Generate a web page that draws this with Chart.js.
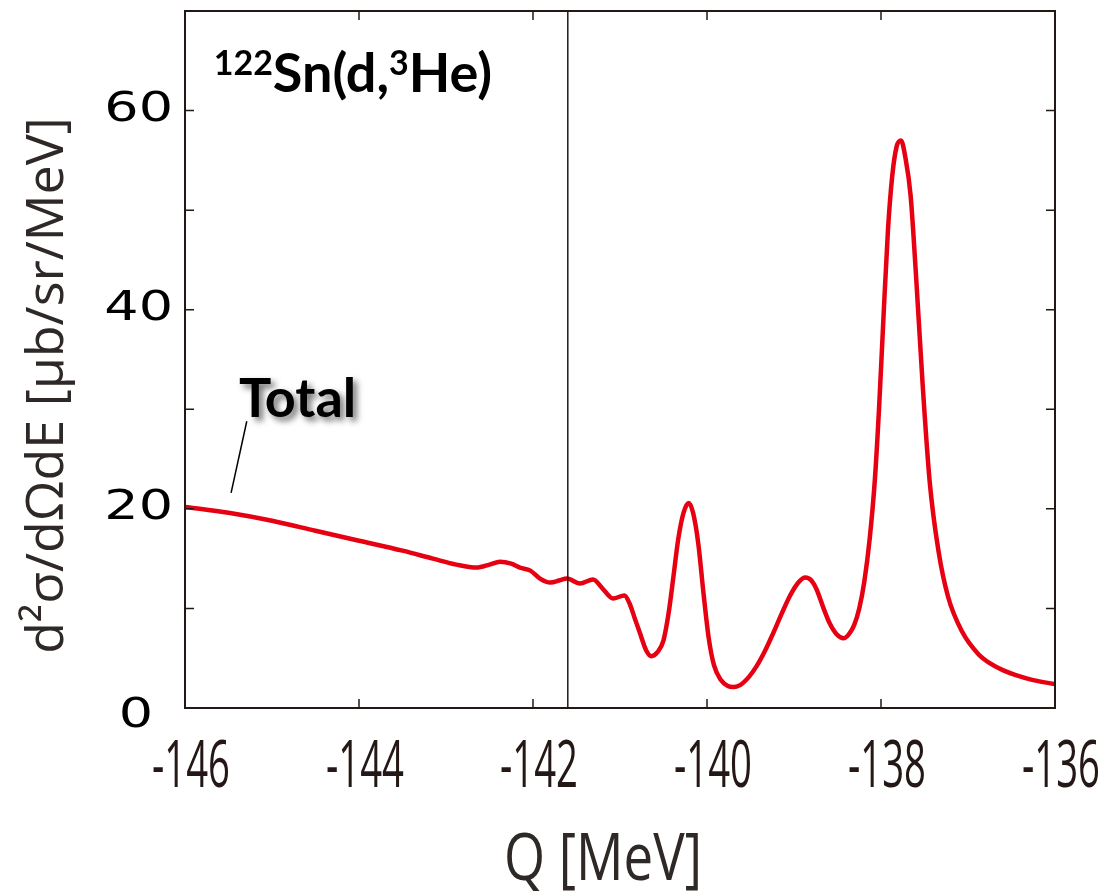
<!DOCTYPE html>
<html>
<head>
<meta charset="utf-8">
<script src="https://cdn.jsdelivr.net/npm/chart.js@4.4.1/dist/chart.umd.min.js"></script>
<style>
  html, body { margin: 0; background: #fff; }
  #wrap { width: 1098px; height: 892px; }
</style>
</head>
<body>
<div id="wrap"><canvas id="espectro" width="1098" height="892"></canvas></div>
<script>
// Q (MeV) e secao de choque dupla diferencial total (ub/sr/MeV)
const qMeV = [
  -146.00, -145.50, -145.00, -144.50, -144.00, -143.50, -143.15, -142.88, -142.65, -142.50,
  -142.38, -142.25, -142.15, -142.03, -141.92, -141.80, -141.70, -141.61, -141.46, -141.31,
  -141.20, -141.08, -140.95, -140.89, -140.83, -140.77, -140.70, -140.64, -140.57, -140.50,
  -140.44, -140.39, -140.33, -140.27, -140.21, -140.16, -140.10, -140.04, -139.98, -139.92,
  -139.84, -139.76, -139.70, -139.62, -139.52, -139.43, -139.33, -139.24, -139.14, -139.05,
  -138.95, -138.87, -138.80, -138.74, -138.66, -138.59, -138.51, -138.43, -138.37, -138.31,
  -138.25, -138.19, -138.13, -138.07, -138.02, -137.97, -137.92, -137.87, -137.82, -137.77,
  -137.72, -137.66, -137.60, -137.52, -137.44, -137.34, -137.23, -137.07, -136.88, -136.75,
  -136.60, -136.45, -136.25, -136.00
];
const sigmaTotal = [
  20.2, 19.6, 18.8, 17.8, 16.8, 15.8, 15.0, 14.4, 14.1, 14.4,
  14.7, 14.5, 14.1, 13.8, 13.0, 12.6, 12.8, 13.0, 12.5, 12.9,
  12.0, 11.0, 11.3, 10.5, 9.0, 7.5, 5.8, 5.2, 5.6, 6.8,
  9.6, 12.9, 17.0, 19.6, 20.6, 19.6, 16.5, 11.5, 7.0, 4.3,
  2.8, 2.2, 2.1, 2.3, 3.1, 4.2, 5.8, 7.5, 9.5, 11.2,
  12.6, 13.1, 12.8, 11.9, 10.0, 8.5, 7.4, 7.0, 7.4, 8.3,
  10.0, 12.8, 17.0, 23.0, 30.5, 39.5, 48.0, 53.5, 56.4, 57.0,
  55.3, 51.5, 43.8, 32.3, 22.7, 15.8, 11.2, 7.7, 5.4, 4.5,
  3.8, 3.3, 2.8, 2.4
];
// limiar marcado pela linha vertical
const qLimiar = -141.6;
const yLabeled = [0, 20, 40, 60];

const NEGRO = '#231815';
const CINZA = '#2e2926';

function desenhaTrechos(ctx, x, y, trechos) {
  for (const t of trechos) {
    ctx.font = t.font;
    ctx.fillText(t.text, x, y + (t.dy || 0));
    x += ctx.measureText(t.text).width;
  }
}

// texto com escala horizontal (fontes estreitas / largas)
function textoEsticado(ctx, txt, px, py, sx) {
  ctx.save();
  ctx.translate(px, py);
  ctx.scale(sx, 1);
  ctx.fillText(txt, 0, 0);
  ctx.restore();
}

const moldura = {
  id: 'moldura',
  afterDraw(chart) {
    const { ctx, chartArea: a, scales: { x, y } } = chart;
    ctx.save();
    ctx.strokeStyle = NEGRO;
    ctx.lineWidth = 2;
    ctx.strokeRect(a.left, a.top, a.right - a.left, a.bottom - a.top);

    // marcas para dentro nos quatro lados
    ctx.lineWidth = 1.5;
    ctx.beginPath();
    x.ticks.forEach(t => {
      const px = x.getPixelForValue(t.value);
      ctx.moveTo(px, a.bottom); ctx.lineTo(px, a.bottom - 9);
      ctx.moveTo(px, a.top); ctx.lineTo(px, a.top + 9);
    });
    y.ticks.forEach(t => {
      const py = y.getPixelForValue(t.value);
      ctx.moveTo(a.left, py); ctx.lineTo(a.left + 9, py);
      ctx.moveTo(a.right, py); ctx.lineTo(a.right - 9, py);
    });
    ctx.stroke();

    // numeros do eixo x
    ctx.fillStyle = NEGRO;
    ctx.textAlign = 'center';
    ctx.textBaseline = 'alphabetic';
    ctx.font = '500 66px "Open Sans"';
    x.ticks.forEach(t => {
      textoEsticado(ctx, String(t.value), x.getPixelForValue(t.value) + 6, a.bottom + 79, 0.58);
    });

    // numeros do eixo y
    ctx.fillStyle = '#000';
    ctx.textAlign = 'right';
    ctx.textBaseline = 'middle';
    ctx.font = '40px "DejaVu Sans"';
    yLabeled.forEach(v => {
      const dx = v === 0 ? -20 : 0;
      const dy = v === 0 ? 9 : 0;
      textoEsticado(ctx, String(v), a.left - 12 + dx, y.getPixelForValue(v) + dy, 1.35);
    });

    // titulos dos eixos
    ctx.fillStyle = CINZA;
    ctx.textAlign = 'center';
    ctx.textBaseline = 'alphabetic';
    ctx.font = '66px "Open Sans"';
    textoEsticado(ctx, 'Q [MeV]', (a.left + a.right) / 2 - 17, 880, 0.8);

    ctx.save();
    ctx.translate(48, (a.top + a.bottom) / 2 + 26);
    ctx.rotate(-Math.PI / 2);
    ctx.textBaseline = 'middle';
    ctx.font = '52px "Open Sans"';
    ctx.fillText('d²σ/dΩdE [μb/sr/MeV]', 0, 0);
    ctx.restore();

    // reacao
    ctx.fillStyle = '#000';
    ctx.textAlign = 'left';
    ctx.textBaseline = 'alphabetic';
    desenhaTrechos(ctx, x.getPixelForValue(-145.67), y.getPixelForValue(61.9), [
      { text: '122', font: 'bold 34px Lato', dy: -17 },
      { text: 'Sn(d,', font: 'bold 54px Lato' },
      { text: '3', font: 'bold 34px Lato', dy: -17 },
      { text: 'He)', font: 'bold 54px Lato' }
    ]);

    // rotulo da curva total com sombra
    ctx.save();
    ctx.shadowColor = 'rgba(0,0,0,0.55)';
    ctx.shadowBlur = 6;
    ctx.shadowOffsetX = 4;
    ctx.shadowOffsetY = 4;
    ctx.font = 'bold 54px Lato';
    ctx.fillText('Total', x.getPixelForValue(-145.38), y.getPixelForValue(29.2));
    ctx.restore();

    ctx.strokeStyle = '#000';
    ctx.lineWidth = 1.5;
    ctx.beginPath();
    ctx.moveTo(x.getPixelForValue(-145.29), y.getPixelForValue(28.8));
    ctx.lineTo(x.getPixelForValue(-145.47), y.getPixelForValue(21.6));
    ctx.stroke();
    ctx.restore();
  }
};

const ctx = document.getElementById('espectro').getContext('2d');
const grafico = new Chart(ctx, {
  type: 'scatter',
  data: {
    datasets: [{
      label: 'limiar',
      data: [{ x: qLimiar, y: 0 }, { x: qLimiar, y: 70 }],
      showLine: true,
      borderColor: NEGRO,
      borderWidth: 1.5,
      pointRadius: 0
    }, {
      label: 'Total',
      data: qMeV.map((q, i) => ({ x: q, y: sigmaTotal[i] })),
      showLine: true,
      borderColor: '#e60012',
      borderWidth: 4.5,
      pointRadius: 0,
      cubicInterpolationMode: 'monotone'
    }]
  },
  options: {
    responsive: false,
    animation: false,
    layout: { padding: { top: 11, right: 43, left: 0, bottom: 0 } },
    plugins: {
      legend: { display: false },
      tooltip: { enabled: false }
    },
    scales: {
      x: {
        type: 'linear',
        min: -146,
        max: -136,
        afterFit: s => { s.height = 184; s.paddingLeft = 0; s.paddingRight = 0; },
        grid: { display: false, drawTicks: false },
        border: { display: false },
        ticks: { stepSize: 2, display: false }
      },
      y: {
        min: 0,
        max: 70,
        afterFit: s => { s.width = 185; s.paddingTop = 0; s.paddingBottom = 0; },
        grid: { display: false, drawTicks: false },
        border: { display: false },
        ticks: { stepSize: 10, display: false }
      }
    }
  },
  plugins: [moldura]
});
</script>
</body>
</html>
